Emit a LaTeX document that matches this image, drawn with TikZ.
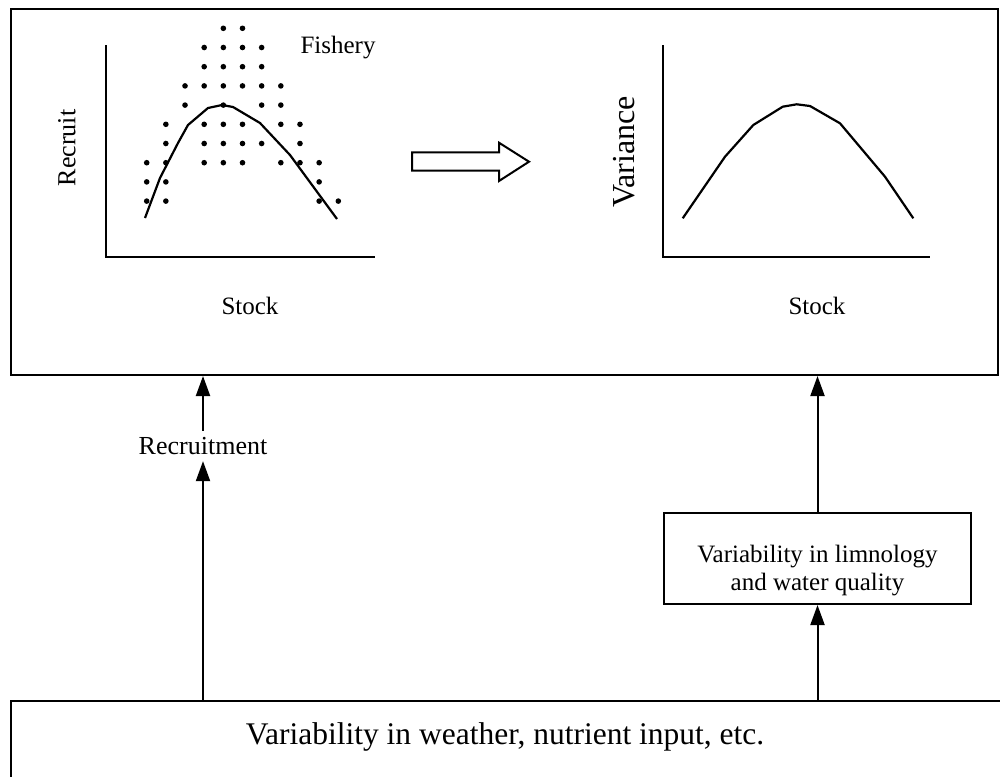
\documentclass[tikz,border=0pt]{standalone}
\usepackage{fontspec}
\setmainfont{Liberation Serif}
\usetikzlibrary{arrows.meta}
\begin{document}
\begin{tikzpicture}[x=0.5pt,y=-0.5pt,
  box/.style={draw,line width=1pt,rectangle,inner sep=0pt},
  axis/.style={line width=1.3pt},
  curve/.style={line width=1.1pt,line join=round},
  conn/.style={line width=1pt,-{Triangle[width=7pt,length=10pt]}},
  lbl/.style={font=\fontsize{12.5}{15}\selectfont,inner sep=0pt},
  dotmark/.style={circle,fill,inner sep=0pt,minimum size=2.8pt}
]
\useasboundingbox (0,0) rectangle (1000,776);
\begin{scope}
\clip (0,0) rectangle (1000,776);
% boxes
\node[box,minimum width=493.5pt,minimum height=183pt,anchor=north west] (top) at (10,8) {};
\node[box,minimum width=520pt,minimum height=60pt,anchor=north west] (weather) at (10,700) {};
\node[inner sep=0pt,font=\fontsize{15.75}{19}\selectfont] (wtext) at (505,737) {Variability in weather, nutrient input, etc.};
\node[box,minimum width=153.5pt,minimum height=45.5pt] (limno) at (817.5,558.5) {};
\node[inner sep=0pt,align=center,font=\fontsize{12.5}{14}\selectfont] (limnotext) at (817.5,571) {Variability in limnology\\and water quality};
\node[lbl,inner sep=3pt,font=\fontsize{13}{15}\selectfont] (rec) at (203,446) {Recruitment};
\end{scope}
% connectors
\draw[conn] (weather.north -| rec) -- (rec.south);
\draw[conn] (rec.north) -- (top.south -| rec);
\draw[conn] (weather.north -| limno) -- (limno.south);
\draw[conn] (limno.north) -- (top.south -| limno);
% left chart
\coordinate (lo) at (106,257);
\draw[axis] (106,45) -- (lo) -- (375,257);
\node[lbl,rotate=90,font=\fontsize{13}{15}\selectfont] (ylab1) at (67,148) {Recruit};
\node[lbl] (xlab1) at (250,306) {Stock};
\node[lbl,font=\fontsize{12.5}{15}\selectfont] (fish) at (338,48) {Fishery};
\foreach \c/\r in {4/0,5/0,
  3/1,4/1,5/1,6/1,
  3/2,4/2,5/2,6/2,
  2/3,3/3,4/3,5/3,6/3,7/3,
  2/4,4/4,6/4,7/4,
  1/5,3/5,4/5,5/5,7/5,8/5,
  1/6,3/6,4/6,5/6,6/6,8/6,
  0/7,1/7,3/7,4/7,5/7,7/7,8/7,9/7,
  0/8,1/8,9/8,
  0/9,1/9,9/9,10/9}
  \node[dotmark] at ({146.7+19.16*\c},{28.3+19.2*\r}) {};
\draw[curve] (145,218) -- (160,178) -- (178,143) -- (188,125) -- (208,108) -- (222,105) -- (233,107) -- (260,123) -- (290,155) -- (337,219);
% block arrow
\draw[line width=1pt,line join=miter] (412,152.3) -- (499,152.3) -- (499,142.7) -- (529,161.7) -- (499,181) -- (499,170.7) -- (412,170.7) -- cycle;
% right chart
\draw[axis] (663,45) -- (663,257) -- (930,257);
\node[lbl,rotate=90,font=\fontsize{16}{19}\selectfont] (ylab2) at (624,152) {Variance};
\node[lbl] (xlab2) at (817,306) {Stock};
\draw[curve] (682.7,218.3) -- (725,156.7) -- (753.3,125) -- (782.7,106.7) -- (796.7,104.3) -- (810,106) -- (840,123.3) -- (885,176.7) -- (913.3,218.3);
\end{tikzpicture}
\end{document}
